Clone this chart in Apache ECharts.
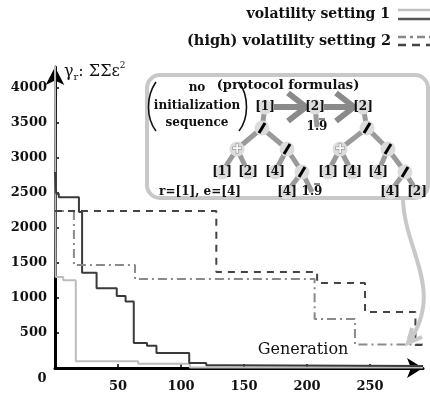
<!DOCTYPE html>
<html><head><meta charset="utf-8">
<script src="https://cdn.jsdelivr.net/npm/echarts@6/dist/echarts.min.js"></script>
<style>html,body{margin:0;padding:0;background:#fff}#c{width:430px;height:394px}</style>
</head><body><div id="c"></div>
<script>
// ---- data (generation, fitness) ----
const setting1Light = [[0,4500],[0.5,1300],[6.5,1255],[16.5,95],[66,60],[107,8],[292,8]];
const setting1Dark = [[0,2800],[1,2490],[3,2440],[19,2230],[21.5,1360],[33,1140],[49,1030],[56,950],[62.5,357],[73,318],[80.5,215],[106.5,70],[120,38],[135,28],[292,28]];
const setting2Dashed = [[0,2243],[128,1370],[208,1214],[246,800],[286,330],[292,330]];
const setting2DashDot = [[0,2243],[15,1470],[63.5,1270],[206,700],[238,335],[292,335]];
const xTicks = [50,100,150,200,250];
const yTicks = [500,1000,1500,2000,2500,3000,3500,4000];
const legendLabels = ['volatility setting 1','(high) volatility setting 2'];

const F = '"DejaVu Serif", serif';
const chart = echarts.init(document.getElementById('c'));

// ---- inset illustration (protocol formula trees) ----
const nodes = [
  {t:'[1]',x:265,y:107},{t:'[2]',x:315,y:107},{t:'[2]',x:363,y:107},
  {t:'/',x:262,y:128},{t:'1.9',x:317,y:127},{t:'/',x:367,y:128},
  {t:'+',x:237,y:149},{t:'/',x:287,y:149},{t:'+',x:340,y:149},{t:'/',x:388,y:149},
  {t:'[1]',x:222,y:172},{t:'[2]',x:248,y:172},{t:'[4]',x:275,y:172},{t:'/',x:302,y:172},
  {t:'[1]',x:328,y:172},{t:'[4]',x:352,y:172},{t:'[4]',x:378,y:172},{t:'/',x:405,y:172},
  {t:'[4]',x:287,y:192},{t:'1.9',x:312,y:192},{t:'[4]',x:390,y:192},{t:'[2]',x:417,y:192}
];
const edges = [[0,3],[1,4],[2,5],[3,6],[3,7],[5,8],[5,9],[6,10],[6,11],[7,12],[7,13],[8,14],[8,15],[9,16],[9,17],[13,18],[13,19],[17,20],[17,21]];

const g = [];
g.push({type:'rect',shape:{x:147,y:75,width:281,height:123,r:13},style:{fill:'#fff',stroke:'#c8c8c8',lineWidth:4},z:10});
g.push({type:'bezierCurve',shape:{x1:403,y1:199,cpx1:404,cpy1:250,cpx2:445,cpy2:290,x2:409,y2:342},style:{stroke:'#c8c8c8',lineWidth:4,fill:null},z:10});
g.push({type:'polyline',shape:{points:[[412,328],[408,343],[422,337]]},style:{stroke:'#c8c8c8',lineWidth:4,fill:null},z:10});
edges.forEach(([a,b])=>{
  g.push({type:'line',shape:{x1:nodes[a].x,y1:nodes[a].y,x2:nodes[b].x,y2:nodes[b].y},style:{stroke:'#9a9a9a',lineWidth:5},z:11});
});
[[274,306],[324,354]].forEach(([a,b])=>{
  g.push({type:'line',shape:{x1:a,y1:107,x2:b,y2:107},style:{stroke:'#8a8a8a',lineWidth:6},z:11});
  g.push({type:'polyline',shape:{points:[[b-18,93],[b,107],[b-18,121]]},style:{stroke:'#8a8a8a',lineWidth:6,fill:null},z:11});
});
nodes.forEach(n=>{
  if(n.t!=='1.9') g.push({type:'circle',shape:{cx:n.x,cy:n.y,r:7.5},style:{fill:'#dcdcdc'},z:12});
  if(n.t==='/'){
    g.push({type:'line',shape:{x1:n.x-3,y1:n.y+5,x2:n.x+3,y2:n.y-5},style:{stroke:'#000',lineWidth:3},z:13});
  } else if(n.t==='+'){
    g.push({type:'text',x:n.x,y:n.y,style:{text:'+',font:'bold 14px '+F,fill:'#fff',stroke:'#777',lineWidth:1,align:'center',verticalAlign:'middle'},z:13});
  } else {
    g.push({type:'text',x:n.x,y:n.y,style:{text:n.t,font:'bold 12px '+F,fill:'#111',align:'center',verticalAlign:'middle'},z:13});
    if(n.t==='1.9') g.push({type:'line',shape:{x1:n.x+2,y1:n.y-8,x2:n.x+8,y2:n.y-8},style:{stroke:'#111',lineWidth:1},z:13});
  }
});
g.push({type:'text',x:288,y:86,style:{text:'(protocol formulas)',font:'bold 13px '+F,fill:'#111',align:'center',verticalAlign:'middle'},z:13});
g.push({type:'text',x:197,y:88,style:{text:'no',font:'bold 12px '+F,fill:'#111',align:'center',verticalAlign:'middle'},z:13});
g.push({type:'text',x:197,y:106,style:{text:'initialization',font:'bold 12px '+F,fill:'#111',align:'center',verticalAlign:'middle'},z:13});
g.push({type:'text',x:197,y:123,style:{text:'sequence',font:'bold 12px '+F,fill:'#111',align:'center',verticalAlign:'middle'},z:13});
g.push({type:'bezierCurve',shape:{x1:156,y1:82,cpx1:146,cpy1:96,cpx2:146,cpy2:118,x2:156,y2:131},style:{stroke:'#111',lineWidth:1.6,fill:null},z:13});
g.push({type:'bezierCurve',shape:{x1:239,y1:82,cpx1:249,cpy1:96,cpx2:249,cpy2:118,x2:239,y2:131},style:{stroke:'#111',lineWidth:1.6,fill:null},z:13});
g.push({type:'text',x:200,y:192,style:{text:'r=[1], e=[4]',font:'bold 12px '+F,fill:'#111',align:'center',verticalAlign:'middle'},z:13});

// legend
g.push({type:'text',x:390,y:14,style:{text:legendLabels[0],font:'bold 14px '+F,fill:'#111',align:'right',verticalAlign:'middle'}});
g.push({type:'text',x:391,y:41,style:{text:legendLabels[1],font:'bold 14.5px '+F,fill:'#111',align:'right',verticalAlign:'middle'}});
g.push({type:'line',shape:{x1:398,y1:10,x2:432,y2:10},style:{stroke:'#c0c0c0',lineWidth:2.5}});
g.push({type:'line',shape:{x1:398,y1:19,x2:432,y2:19},style:{stroke:'#555',lineWidth:2.5}});
g.push({type:'line',shape:{x1:398,y1:37,x2:432,y2:37},style:{stroke:'#888',lineWidth:2.5,lineDash:[8,4,3,4]}});
g.push({type:'line',shape:{x1:398,y1:45,x2:432,y2:45},style:{stroke:'#444',lineWidth:2.5,lineDash:[8,6]}});

// axis titles and origin label
g.push({type:'text',x:64,y:72,style:{text:'γ{s|r}: ΣΣε{p|2}',font:'16px '+F,fill:'#111',verticalAlign:'middle',
  rich:{s:{font:'10px '+F,fill:'#111',padding:[10,0,0,0]},p:{font:'9px '+F,fill:'#111',padding:[0,0,12,0]}}}});
g.push({type:'text',x:303,y:350,style:{text:'Generation',font:'16px '+F,fill:'#111',align:'center',verticalAlign:'middle'}});
g.push({type:'text',x:42,y:379,style:{text:'0',font:'bold 13px '+F,fill:'#111',align:'center',verticalAlign:'middle'}});

const lbl = {fontFamily:F,fontWeight:'bold',fontSize:13,color:'#111',formatter:v=>String(v)};
chart.setOption({
  animation:false,
  grid:{left:55,right:7,top:67,bottom:26},
  xAxis:{type:'value',min:0,max:292,interval:50,
    axisLine:{lineStyle:{color:'#000',width:3},symbol:['none','arrow'],symbolSize:[15,16]},
    axisTick:{show:true,inside:true,length:4,lineStyle:{color:'#000',width:1.5},customValues:xTicks},
    axisLabel:Object.assign({margin:12,customValues:xTicks},lbl),
    splitLine:{show:false}},
  yAxis:{type:'value',min:0,max:4300,interval:500,
    axisLine:{show:true,lineStyle:{color:'#000',width:3},symbol:['none','arrow'],symbolSize:[14,18]},
    axisTick:{show:true,inside:true,length:4,lineStyle:{color:'#000',width:1.5},customValues:yTicks},
    axisLabel:Object.assign({margin:8,customValues:yTicks},lbl),
    splitLine:{show:false}},
  series:[
    {name:'setting 1 (a)',type:'line',step:'end',data:setting1Light,symbol:'none',lineStyle:{color:'#bdbdbd',width:2}},
    {name:'setting 1 (b)',type:'line',step:'end',data:setting1Dark,symbol:'none',lineStyle:{color:'#3a3a3a',width:2}},
    {name:'setting 2 (a)',type:'line',step:'end',data:setting2DashDot,symbol:'none',lineStyle:{color:'#8a8a8a',width:2,type:[9,4,2,4]}},
    {name:'setting 2 (b)',type:'line',step:'end',data:setting2Dashed,symbol:'none',lineStyle:{color:'#444',width:2,type:[7,6]}}
  ],
  graphic:g
});
</script></body></html>
